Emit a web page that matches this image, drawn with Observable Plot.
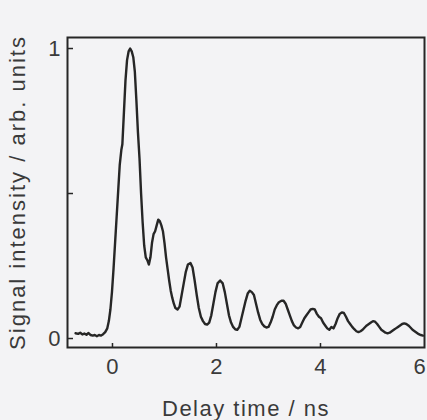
<!DOCTYPE html>
<html>
<head>
<meta charset="utf-8">
<script src="https://cdn.jsdelivr.net/npm/d3@7"></script>
<script src="https://cdn.jsdelivr.net/npm/@observablehq/plot@0.6"></script>
<style>
  html, body { margin: 0; padding: 0; background: #f3f3f5; }
  #chart svg { display: block; background: #f3f3f5; overflow: visible; }
  #chart svg g[aria-label="x-axis label"] text { letter-spacing: 1.5px; }
  #chart svg g[aria-label="y-axis label"] text { letter-spacing: 2px; }
</style>
</head>
<body>
<div id="chart"></div>
<script>
// Delay time (ns)
const delayTimes = [
  -0.71, -0.66, -0.62, -0.58, -0.54, -0.50, -0.46, -0.42, -0.38, -0.34, -0.30, -0.26, -0.22, -0.18, -0.14, -0.10,
  -0.07, -0.04, -0.01, 0.02, 0.05, 0.08, 0.11, 0.14, 0.17, 0.19, 0.22, 0.25, 0.28, 0.31, 0.34, 0.37, 0.40, 0.43,
  0.46, 0.49, 0.52, 0.55, 0.58, 0.61, 0.64, 0.67, 0.70, 0.73, 0.76, 0.79, 0.82, 0.85, 0.88, 0.91, 0.94, 0.97,
  1.00, 1.03, 1.06, 1.09, 1.12, 1.15, 1.18, 1.21, 1.25, 1.29, 1.33, 1.37, 1.41, 1.45, 1.50, 1.54, 1.58, 1.62,
  1.66, 1.70, 1.74, 1.78, 1.82, 1.86, 1.90, 1.94, 1.98, 2.02, 2.07, 2.12, 2.16, 2.20, 2.24, 2.28, 2.32, 2.36,
  2.40, 2.44, 2.48, 2.52, 2.56, 2.60, 2.64, 2.68, 2.72, 2.76, 2.80, 2.84, 2.88, 2.92, 2.96, 3.00, 3.04, 3.08,
  3.12, 3.16, 3.20, 3.25, 3.29, 3.33, 3.37, 3.41, 3.45, 3.49, 3.53, 3.57, 3.61, 3.65, 3.69, 3.73, 3.77, 3.81,
  3.85, 3.89, 3.93, 3.97, 4.01, 4.05, 4.09, 4.13, 4.17, 4.21, 4.25, 4.29, 4.33, 4.37, 4.41, 4.45, 4.49, 4.53,
  4.57, 4.61, 4.65, 4.69, 4.73, 4.77, 4.81, 4.85, 4.89, 4.93, 4.97, 5.01, 5.05, 5.09, 5.13, 5.17, 5.21, 5.25,
  5.29, 5.33, 5.37, 5.41, 5.45, 5.49, 5.53, 5.57, 5.61, 5.65, 5.69, 5.73, 5.77, 5.81, 5.85, 5.89, 5.93, 5.97
];
// Signal intensity (arb. units)
const signalValues = [
  0.018, 0.016, 0.020, 0.014, 0.017, 0.013, 0.019, 0.012, 0.010, 0.012, 0.008, 0.012, 0.010, 0.015, 0.022, 0.035,
  0.06, 0.10, 0.16, 0.24, 0.33, 0.42, 0.51, 0.60, 0.65, 0.67, 0.78, 0.89, 0.96, 0.99, 1.0, 0.99, 0.97, 0.92,
  0.82, 0.71, 0.62, 0.50, 0.40, 0.32, 0.28, 0.27, 0.255, 0.28, 0.33, 0.36, 0.37, 0.39, 0.41, 0.405, 0.39, 0.37,
  0.33, 0.28, 0.24, 0.20, 0.165, 0.14, 0.12, 0.105, 0.10, 0.11, 0.15, 0.19, 0.23, 0.255, 0.26, 0.245, 0.20, 0.15,
  0.105, 0.075, 0.06, 0.05, 0.048, 0.055, 0.08, 0.12, 0.16, 0.19, 0.20, 0.19, 0.16, 0.12, 0.08, 0.055, 0.04, 0.032,
  0.03, 0.04, 0.07, 0.10, 0.13, 0.155, 0.165, 0.16, 0.15, 0.12, 0.09, 0.065, 0.05, 0.042, 0.038, 0.04, 0.055, 0.075,
  0.10, 0.115, 0.125, 0.13, 0.13, 0.12, 0.10, 0.08, 0.06, 0.045, 0.038, 0.035, 0.04, 0.055, 0.07, 0.08, 0.09, 0.10,
  0.102, 0.10, 0.085, 0.075, 0.07, 0.055, 0.045, 0.035, 0.03, 0.04, 0.035, 0.05, 0.07, 0.085, 0.09, 0.088, 0.075, 0.06,
  0.05, 0.04, 0.032, 0.025, 0.022, 0.025, 0.03, 0.038, 0.045, 0.05, 0.055, 0.06, 0.058, 0.05, 0.04, 0.03, 0.025, 0.02,
  0.018, 0.02, 0.025, 0.03, 0.035, 0.04, 0.045, 0.05, 0.052, 0.05, 0.045, 0.038, 0.03, 0.025, 0.02, 0.015, 0.012, 0.01
];
const xTickMarks = [0, 2, 4];
const xTickLabels = [0, 2, 4];
const xLastTickLabel = [6];
const yTickMarks = [0, 0.5, 1];
const yTickLabels = [0, 1];

const data = delayTimes.map((t, i) => ({t, v: signalValues[i]}));

const ink = "#262626";
const textInk = "#3a3a3a";
const fmt = d => String(d);

const chart = Plot.plot({
  width: 427,
  height: 420,
  marginLeft: 67,
  marginRight: 3,
  marginTop: 37,
  marginBottom: 73,
  style: {fontFamily: "'Liberation Sans', Arial, sans-serif", background: "#f3f3f5", color: textInk},
  x: {domain: [-0.865, 6]},
  y: {domain: [-0.031, 1.038]},
  marks: [
    Plot.axisX({ticks: xTickMarks, tickSize: -4, tickFormat: () => "", label: null, stroke: ink, strokeWidth: 1.5}),
    Plot.axisX({ticks: xTickLabels, tickSize: 0, tickPadding: 11, fontSize: 22, fill: textInk, tickFormat: fmt,
      label: "Delay time / ns", labelAnchor: "center", labelOffset: 68, labelArrow: "none"}),
    Plot.axisX({ticks: xLastTickLabel, tickSize: 0, tickPadding: 11, fontSize: 22, fill: textInk, tickFormat: fmt,
      dx: -5, label: null}),
    Plot.axisY({ticks: yTickMarks, tickSize: -6, tickFormat: () => "", label: null, stroke: ink, strokeWidth: 1.5}),
    Plot.axisY({ticks: yTickLabels, tickSize: 0, tickPadding: 7, fontSize: 22, fill: textInk, tickFormat: fmt,
      label: "Signal intensity / arb. units", labelAnchor: "center", labelOffset: 58, labelArrow: "none"}),
    Plot.frame({stroke: ink, strokeWidth: 2}),
    Plot.line(data, {x: "t", y: "v", stroke: ink, strokeWidth: 2.4, curve: "linear"})
  ]
});
document.getElementById("chart").append(chart);
</script>
</body>
</html>
